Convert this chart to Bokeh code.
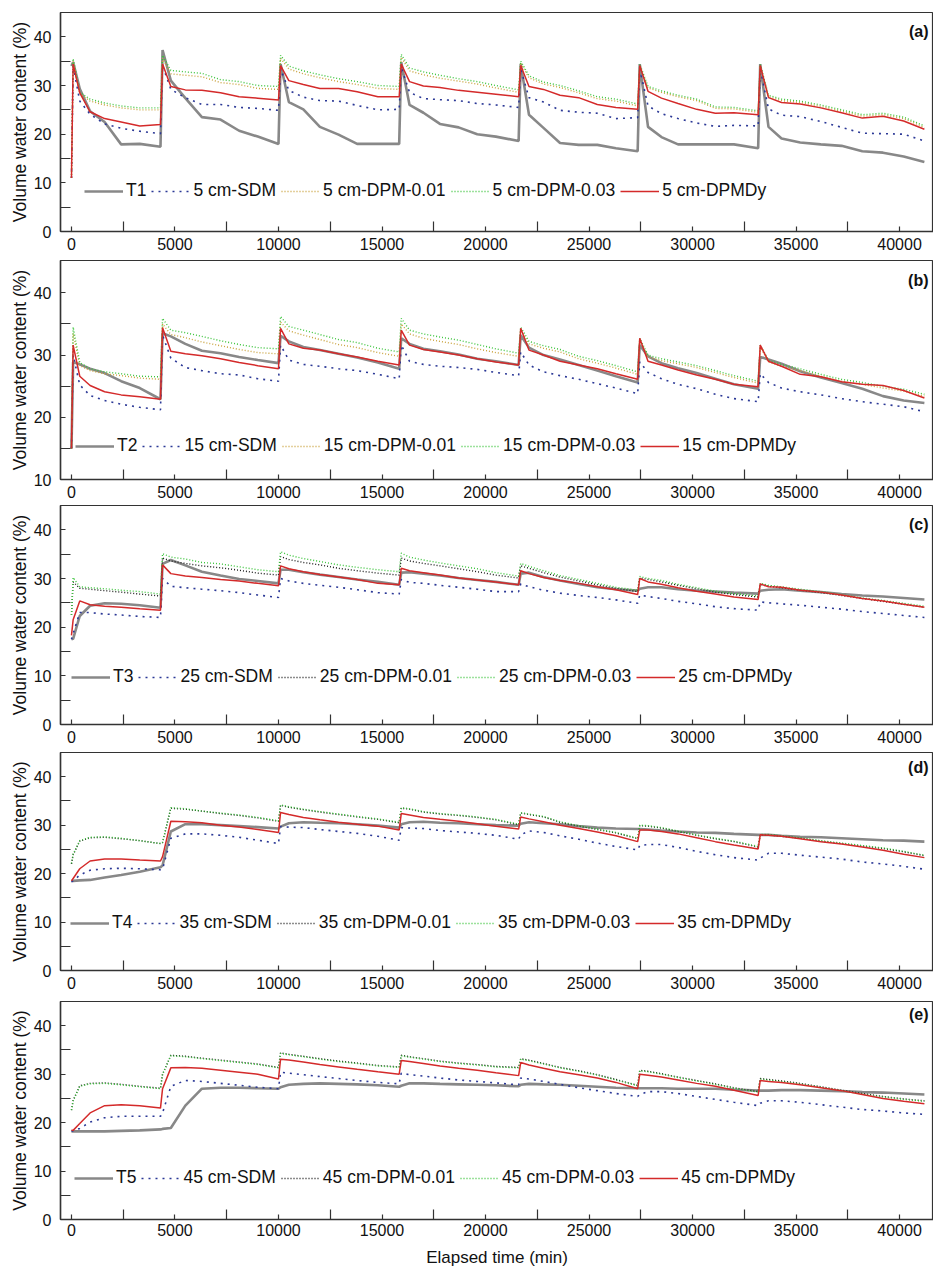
from bokeh.plotting import figure
from bokeh.layouts import column
from bokeh.models import Range1d, FixedTicker, Legend, LegendItem, Label
from bokeh.embed import file_html
from bokeh.resources import INLINE

TIME_MIN = [0, 80, 400, 900, 1600, 2400, 3300, 4300,
            4400, 4800, 5500, 6300, 7200, 8100, 9000, 10000,
            10100, 10500, 11200, 12000, 12900, 13800, 14800, 15830,
            15930, 16330, 17000, 17800, 18700, 19600, 20500, 21600,
            21700, 22100, 22800, 23600, 24500, 25400, 26300, 27350,
            27450, 27850, 28500, 29300, 30200, 31100, 32000, 33170,
            33270, 33670, 34300, 35200, 36200, 37200, 38200, 39200, 40200, 41200]

# ---- panel (a), 5 cm ----
A_T = [34.0, 34.8, 29.3, 24.7, 22.5, 17.9, 18.0, 17.4,
       37.3, 31.0, 27.4, 23.5, 23.0, 20.7, 19.5, 18.0,
       34.4, 26.6, 25.1, 21.5, 19.9, 18.0, 18.0, 18.0,
       34.8, 26.0, 24.4, 22.1, 21.4, 20.0, 19.5, 18.6,
       34.4, 24.0, 21.3, 18.2, 17.8, 17.8, 17.1, 16.5,
       34.4, 21.5, 19.4, 17.9, 17.9, 17.9, 17.9, 17.1,
       34.4, 21.5, 19.1, 18.3, 17.9, 17.6, 16.5, 16.2, 15.4, 14.3]
A_SDM = [11.0, 34.0, 26.8, 24.1, 22.1, 21.2, 20.6, 20.1,
         34.1, 29.2, 27.5, 26.1, 26.1, 25.5, 25.3, 24.9,
         33.4, 29.0, 27.6, 26.9, 26.8, 25.9, 25.0, 25.1,
         33.7, 28.6, 27.3, 27.1, 26.9, 26.3, 26.0, 25.5,
         33.4, 27.5, 26.6, 24.9, 24.5, 24.3, 23.2, 23.4,
         33.4, 25.8, 24.2, 23.2, 22.3, 21.6, 21.8, 21.7,
         33.4, 25.2, 23.9, 23.6, 22.6, 21.4, 20.2, 20.1, 20.0, 18.6]
A_DPM001 = [11.0, 35.0, 28.3, 26.8, 26.0, 25.4, 25.0, 25.0,
            35.6, 32.4, 32.1, 31.8, 30.6, 30.2, 29.4, 29.2,
            35.6, 33.4, 32.4, 31.6, 30.8, 30.2, 29.4, 29.2,
            35.8, 33.0, 32.2, 31.5, 30.9, 30.3, 29.5, 28.6,
            34.6, 31.6, 30.3, 29.6, 28.5, 27.3, 26.8, 25.8,
            34.1, 29.5, 28.6, 27.7, 26.9, 25.3, 25.2, 24.5,
            34.1, 27.7, 26.9, 26.5, 25.7, 24.7, 23.7, 24.0, 23.2, 21.4]
A_DPM003 = [11.0, 35.5, 28.6, 27.2, 26.4, 25.8, 25.4, 25.4,
            36.2, 33.1, 32.8, 32.5, 31.2, 30.8, 30.0, 29.8,
            36.2, 34.0, 33.0, 32.2, 31.4, 30.8, 30.0, 29.8,
            36.4, 33.6, 32.8, 32.1, 31.4, 30.8, 30.0, 29.1,
            35.0, 32.0, 30.7, 30.0, 28.9, 27.7, 27.2, 26.2,
            34.4, 29.8, 28.9, 28.0, 27.2, 25.6, 25.5, 24.8,
            34.4, 28.0, 27.2, 26.8, 26.0, 25.0, 24.0, 24.3, 23.5, 21.7]
A_DPMDY = [11.0, 34.4, 28.5, 24.6, 23.2, 22.5, 21.7, 22.0,
           34.4, 29.8, 29.1, 29.0, 28.5, 27.7, 27.4, 27.0,
           34.1, 31.0, 30.2, 29.4, 29.4, 28.7, 27.7, 27.7,
           34.4, 30.8, 29.9, 29.6, 29.0, 28.6, 28.2, 27.7,
           34.1, 29.8, 29.2, 28.0, 27.5, 26.1, 25.5, 25.1,
           34.1, 28.8, 27.4, 26.3, 25.1, 24.3, 24.4, 24.0,
           34.1, 27.5, 26.5, 26.2, 25.4, 24.4, 23.3, 23.7, 22.7, 21.0]

# ---- panel (b), 15 cm ----
B_T = [15.0, 28.9, 28.5, 27.8, 27.1, 25.8, 24.7, 22.9,
       33.5, 33.0, 31.8, 30.7, 30.3, 29.7, 29.2, 28.7,
       33.1, 32.2, 31.3, 30.8, 30.2, 29.6, 28.8, 27.8,
       32.7, 31.8, 31.0, 30.6, 30.1, 29.4, 29.0, 28.4,
       33.2, 31.2, 30.0, 29.3, 28.4, 27.5, 26.6, 25.6,
       31.6, 29.8, 28.7, 27.9, 27.1, 26.2, 25.3, 24.6,
       29.7, 29.3, 28.6, 27.4, 26.4, 25.5, 24.6, 23.4, 22.7, 22.3]
B_SDM = [15.0, 30.0, 25.2, 23.5, 22.7, 22.1, 21.6, 21.2,
         33.2, 29.5, 28.0, 27.5, 27.0, 26.8, 26.2, 25.8,
         31.6, 29.2, 28.5, 28.2, 27.8, 27.5, 26.9, 26.2,
         31.6, 29.0, 28.5, 28.2, 28.0, 27.7, 27.2, 26.7,
         30.5, 28.4, 27.3, 26.7, 26.1, 25.4, 24.7, 23.8,
         28.9, 27.2, 26.2, 25.3, 24.6, 23.7, 23.0, 22.5,
         27.0, 25.6, 24.7, 24.1, 23.6, 23.0, 22.5, 22.1, 21.7, 20.9]
B_DPM001 = [15.0, 33.5, 28.3, 27.5, 27.0, 26.7, 26.3, 26.1,
            35.0, 33.3, 32.8, 32.1, 31.5, 30.9, 30.4, 30.2,
            35.3, 33.9, 33.2, 32.5, 31.7, 31.2, 30.4, 29.8,
            35.0, 33.4, 32.7, 32.2, 31.7, 31.0, 30.4, 29.8,
            34.0, 31.8, 31.1, 30.5, 29.4, 28.7, 27.9, 26.9,
            32.4, 29.7, 29.1, 28.6, 28.0, 27.2, 26.4, 25.5,
            31.3, 28.9, 28.2, 27.5, 26.6, 25.8, 25.3, 24.7, 24.2, 23.4]
B_DPM003 = [15.0, 34.5, 28.8, 27.8, 27.3, 27.0, 26.6, 26.5,
            35.9, 34.0, 33.6, 33.0, 32.3, 31.7, 31.2, 31.0,
            36.2, 34.6, 34.0, 33.3, 32.5, 32.0, 31.1, 30.5,
            35.9, 34.0, 33.4, 32.9, 32.4, 31.7, 31.0, 30.3,
            34.5, 32.2, 31.5, 30.9, 29.8, 29.1, 28.3, 27.3,
            32.7, 30.0, 29.4, 28.9, 28.3, 27.5, 26.7, 25.8,
            31.6, 29.2, 28.5, 27.8, 26.9, 26.1, 25.6, 25.0, 24.5, 23.7]
B_DPMDY = [15.0, 31.6, 26.6, 25.1, 24.1, 23.6, 23.3, 22.9,
           34.4, 30.6, 30.2, 29.9, 29.4, 28.8, 28.3, 27.8,
           34.3, 31.8, 31.1, 30.8, 30.2, 29.7, 29.0, 28.4,
           34.0, 31.6, 30.9, 30.5, 30.0, 29.4, 28.9, 28.4,
           34.3, 30.8, 30.0, 29.0, 28.4, 27.8, 27.0, 26.1,
           32.7, 29.0, 28.4, 27.6, 26.8, 26.1, 25.3, 24.9,
           31.6, 29.0, 28.2, 26.9, 26.5, 25.7, 25.3, 25.1, 24.3, 23.1]

# ---- panel (c), 25 cm ----
C_T = [17.5, 17.6, 22.3, 24.4, 24.9, 24.8, 24.5, 24.0,
       33.0, 33.8, 32.7, 31.4, 30.6, 29.9, 29.5, 29.0,
       31.8, 31.8, 31.3, 30.8, 30.3, 29.8, 29.3, 28.7,
       31.2, 31.3, 31.0, 30.6, 30.1, 29.7, 29.3, 28.7,
       31.0, 31.2, 30.3, 29.6, 28.9, 28.2, 27.8, 27.5,
       27.9, 28.2, 28.2, 27.8, 27.5, 27.3, 27.1, 26.9,
       27.5, 27.7, 27.8, 27.5, 27.2, 26.8, 26.5, 26.3, 26.0, 25.7]
C_SDM = [17.5, 18.7, 23.0, 23.0, 22.7, 22.5, 22.2, 22.0,
         30.0, 28.4, 28.1, 27.8, 27.5, 27.1, 26.6, 26.1,
         30.0, 29.5, 29.0, 28.6, 28.2, 27.7, 27.1, 26.8,
         29.8, 29.2, 29.0, 28.6, 28.2, 27.8, 27.3, 27.3,
         28.9, 28.3, 27.6, 27.0, 26.5, 26.1, 25.6, 24.9,
         26.6, 26.3, 25.9, 25.3, 24.8, 24.2, 23.8, 23.5,
         25.2, 25.0, 24.8, 24.5, 24.1, 23.7, 23.2, 22.8, 22.4, 22.0]
C_DPM001 = [22.5, 29.3, 28.0, 27.8, 27.5, 27.2, 26.8, 26.4,
            34.2, 33.6, 33.1, 32.6, 32.2, 31.7, 31.1, 30.7,
            34.5, 33.9, 33.3, 32.8, 32.1, 31.6, 31.1, 30.7,
            34.2, 33.6, 33.1, 32.6, 32.0, 31.4, 30.7, 30.1,
            32.6, 32.1, 31.2, 30.3, 29.5, 28.7, 28.0, 27.3,
            30.1, 29.8, 29.3, 28.6, 27.9, 27.2, 26.7, 26.2,
            28.8, 28.4, 28.1, 27.6, 27.1, 26.5, 25.9, 25.3, 24.7, 24.1]
C_DPM003 = [22.5, 30.2, 28.3, 28.1, 27.9, 27.6, 27.3, 26.8,
            35.1, 34.4, 34.0, 33.3, 33.0, 32.4, 31.8, 31.4,
            35.5, 34.8, 34.1, 33.5, 32.8, 32.3, 31.8, 31.4,
            35.2, 34.4, 33.8, 33.2, 32.6, 32.0, 31.2, 30.5,
            33.1, 32.5, 31.6, 30.6, 29.8, 29.0, 28.2, 27.6,
            30.4, 30.0, 29.6, 28.8, 28.1, 27.4, 26.9, 26.4,
            29.0, 28.6, 28.3, 27.8, 27.3, 26.7, 26.0, 25.5, 24.9, 24.3]
C_DPMDY = [18.3, 21.5, 25.4, 24.6, 24.3, 24.1, 23.8, 23.5,
           32.8, 31.0, 30.5, 30.2, 29.8, 29.5, 29.0, 28.5,
           32.6, 32.0, 31.4, 30.8, 30.3, 29.8, 29.0, 28.7,
           32.1, 31.6, 31.2, 30.7, 30.1, 29.7, 29.3, 28.7,
           31.6, 31.0, 30.2, 29.6, 29.0, 28.3, 27.7, 26.7,
           30.0, 29.3, 28.8, 28.1, 27.4, 26.8, 26.2, 25.7,
           28.9, 28.3, 28.2, 27.6, 27.2, 26.6, 25.9, 25.4, 24.7, 24.1]

# ---- panel (d), 35 cm ----
D_T = [18.5, 18.5, 18.6, 18.7, 19.2, 19.7, 20.4, 21.3,
       21.7, 28.7, 30.2, 30.2, 30.0, 29.8, 29.6, 29.3,
       29.7, 30.4, 30.6, 30.5, 30.4, 30.2, 29.9, 29.5,
       30.2, 30.6, 30.7, 30.5, 30.4, 30.2, 30.0, 29.9,
       30.3, 30.6, 30.4, 30.2, 29.8, 29.5, 29.3, 29.2,
       29.2, 29.1, 28.9, 28.7, 28.5, 28.4, 28.2, 28.0,
       28.0, 28.0, 27.8, 27.6, 27.5, 27.3, 27.1, 26.9, 26.8, 26.6]
D_SDM = [18.3, 18.5, 19.7, 20.7, 21.0, 21.1, 21.0, 20.8,
         20.9, 27.3, 28.2, 28.2, 27.9, 27.5, 26.9, 26.2,
         29.7, 29.6, 29.5, 29.1, 28.7, 28.3, 27.7, 26.9,
         29.5, 29.4, 29.3, 28.9, 28.6, 28.3, 27.9, 27.1,
         28.0, 28.8, 28.5, 27.8, 27.1, 26.3, 25.6, 24.9,
         25.8, 26.0, 26.0, 25.4, 24.6, 23.9, 23.3, 22.8,
         23.2, 24.2, 24.2, 23.8, 23.4, 23.0, 22.4, 22.0, 21.5, 20.9]
D_DPM001 = [22.0, 23.9, 26.7, 27.4, 27.5, 27.2, 26.8, 26.2,
            26.4, 33.5, 33.3, 32.9, 32.4, 32.0, 31.5, 30.8,
            34.1, 33.7, 33.2, 32.7, 32.2, 31.7, 31.2, 30.5,
            33.5, 33.3, 32.7, 32.3, 32.0, 31.6, 31.1, 30.1,
            32.5, 32.2, 31.7, 30.6, 29.8, 29.1, 28.4, 27.2,
            29.9, 29.8, 29.4, 28.7, 27.9, 27.2, 26.6, 25.5,
            28.0, 28.0, 27.7, 27.3, 26.7, 26.2, 25.7, 25.2, 24.5, 23.7]
D_DPM003 = [22.1, 24.0, 26.8, 27.5, 27.6, 27.3, 26.8, 26.2,
            26.5, 33.6, 33.4, 32.9, 32.5, 32.1, 31.6, 30.9,
            34.2, 33.8, 33.3, 32.8, 32.3, 31.8, 31.3, 30.6,
            33.6, 33.4, 32.8, 32.4, 32.1, 31.7, 31.2, 30.2,
            32.6, 32.3, 31.8, 30.7, 29.9, 29.2, 28.5, 27.3,
            30.0, 29.9, 29.5, 28.8, 28.0, 27.3, 26.7, 25.6,
            28.1, 28.1, 27.8, 27.4, 26.8, 26.3, 25.8, 25.3, 24.6, 23.8]
D_DPMDY = [18.5, 19.0, 21.0, 22.6, 23.0, 23.0, 22.8, 22.6,
           23.5, 30.8, 30.7, 30.5, 30.0, 29.6, 29.1, 28.5,
           32.6, 32.2, 31.6, 31.1, 30.6, 30.2, 29.8, 29.0,
           32.4, 32.1, 31.6, 31.2, 30.8, 30.3, 29.8, 29.2,
           31.7, 31.3, 30.7, 30.0, 29.3, 28.6, 27.8, 26.6,
           29.0, 29.0, 28.7, 28.2, 27.4, 26.6, 25.9, 25.1,
           28.0, 27.9, 27.7, 27.2, 26.6, 26.1, 25.5, 24.8, 24.0, 23.3]

# ---- panel (e), 45 cm ----
E_T = [18.2, 18.2, 18.2, 18.2, 18.2, 18.3, 18.4, 18.6,
       18.7, 18.9, 23.5, 27.0, 27.2, 27.2, 27.1, 27.0,
       27.3, 27.8, 28.0, 28.1, 28.0, 27.9, 27.7, 27.4,
       27.6, 28.1, 28.1, 28.0, 27.9, 27.8, 27.7, 27.5,
       27.8, 28.0, 27.9, 27.8, 27.6, 27.4, 27.2, 27.1,
       27.1, 27.1, 27.1, 27.0, 27.0, 27.0, 26.8, 26.6,
       26.6, 26.6, 26.7, 26.7, 26.6, 26.5, 26.3, 26.2, 26.0, 25.8]
E_SDM = [18.2, 18.3, 18.8, 20.1, 21.0, 21.3, 21.3, 21.3,
         22.0, 27.5, 28.7, 28.5, 28.1, 27.7, 27.3, 27.0,
         30.4, 30.2, 29.9, 29.5, 29.1, 28.7, 28.3, 28.0,
         30.2, 29.9, 29.6, 29.2, 28.8, 28.5, 28.2, 27.8,
         29.2, 29.0, 28.5, 27.9, 27.2, 26.6, 26.0, 25.4,
         25.8, 26.4, 26.4, 26.0, 25.4, 24.8, 24.2, 23.5,
         24.0, 24.5, 24.5, 24.2, 23.7, 23.2, 22.7, 22.4, 22.0, 21.7]
E_DPM001 = [22.6, 24.6, 27.6, 28.1, 28.2, 27.9, 27.5, 27.1,
            30.0, 33.9, 33.7, 33.3, 32.9, 32.5, 32.1, 31.4,
            34.4, 34.1, 33.7, 33.2, 32.7, 32.3, 31.8, 31.5,
            33.9, 33.6, 33.2, 32.7, 32.3, 32.0, 31.6, 31.4,
            33.2, 32.9, 32.2, 31.4, 30.7, 29.9, 28.9, 27.7,
            30.8, 30.6, 30.1, 29.4, 28.7, 28.0, 27.2, 26.4,
            29.1, 28.9, 28.6, 28.1, 27.4, 26.7, 26.0, 25.4, 24.9, 24.5]
E_DPM003 = [22.6, 24.5, 27.5, 28.0, 28.1, 27.8, 27.4, 27.0,
            30.0, 33.8, 33.6, 33.2, 32.8, 32.4, 32.0, 31.3,
            34.3, 34.0, 33.6, 33.1, 32.6, 32.2, 31.7, 31.4,
            33.8, 33.5, 33.1, 32.6, 32.2, 31.9, 31.5, 31.3,
            33.1, 32.8, 32.1, 31.3, 30.6, 29.8, 28.8, 27.6,
            30.7, 30.5, 30.0, 29.3, 28.6, 27.9, 27.1, 26.3,
            29.0, 28.8, 28.5, 28.0, 27.3, 26.6, 25.9, 25.3, 24.8, 24.4]
E_DPMDY = [18.4, 18.4, 19.8, 22.0, 23.5, 23.7, 23.5, 23.0,
           27.0, 31.3, 31.4, 31.2, 30.8, 30.4, 30.0, 29.0,
           33.1, 32.9, 32.5, 32.0, 31.5, 31.0, 30.5, 30.0,
           32.8, 32.6, 32.2, 31.7, 31.2, 30.8, 30.3, 29.7,
           32.4, 31.9, 31.2, 30.5, 29.9, 29.2, 28.3, 27.0,
           30.0, 29.8, 29.4, 28.8, 28.1, 27.5, 26.7, 25.6,
           28.7, 28.5, 28.3, 27.8, 27.2, 26.6, 25.8, 25.0, 24.4, 23.9]

X_TICKS = [0, 5000, 10000, 15000, 20000, 25000, 30000, 35000, 40000]
X_MINOR = [2500, 7500, 12500, 17500, 22500, 27500, 32500, 37500]
TAGS = ["(a)", "(b)", "(c)", "(d)", "(e)"]
DEPTHS = ["5", "15", "25", "35", "45"]
OBS_NAMES = ["T1", "T2", "T3", "T4", "T5"]

FONT = "Liberation Sans"
AXIS_COLOR = "#333333"


def make_panel(i, series, ymin, ymax, yticks, yminor, dpm01_color,
               legend_loc, tag_y, top, fh, bottom, xlabel=None):
    p = figure(frame_width=873, frame_height=fh,
               min_border_left=60, min_border_right=0,
               min_border_top=top, min_border_bottom=bottom,
               x_range=Range1d(-530, 41640), y_range=Range1d(ymin, ymax),
               output_backend="svg", toolbar_location=None)
    p.xgrid.visible = False
    p.ygrid.visible = False
    p.outline_line_color = AXIS_COLOR
    p.outline_line_width = 1.2
    p.background_fill_color = "white"
    p.border_fill_color = "white"

    p.xaxis.ticker = FixedTicker(ticks=X_TICKS, minor_ticks=X_MINOR)
    p.yaxis.ticker = FixedTicker(ticks=yticks, minor_ticks=yminor)
    for ax in (p.xaxis[0], p.yaxis[0]):
        ax.axis_line_color = AXIS_COLOR
        ax.axis_line_width = 1.5
        ax.major_tick_in = 5
        ax.major_tick_out = 0
        ax.minor_tick_in = 10
        ax.minor_tick_out = 0
        ax.major_tick_line_color = AXIS_COLOR
        ax.minor_tick_line_color = AXIS_COLOR
        ax.major_tick_line_width = 1.2
        ax.minor_tick_line_width = 1.2
        ax.major_label_text_font = FONT
        ax.major_label_text_font_size = "16px"
        ax.major_label_text_color = "#111111"
    p.xaxis.major_label_standoff = 6
    p.yaxis.major_label_standoff = 9
    p.yaxis.axis_label = "Volume water content (%)"
    p.yaxis.axis_label_text_font = FONT
    p.yaxis.axis_label_text_font_size = "17.5px"
    p.yaxis.axis_label_text_font_style = "normal"
    p.yaxis.axis_label_text_color = "#111111"
    p.yaxis.axis_label_standoff = 1
    if xlabel:
        p.xaxis.axis_label = xlabel
        p.xaxis.axis_label_text_font = FONT
        p.xaxis.axis_label_text_font_size = "17px"
        p.xaxis.axis_label_text_font_style = "normal"
        p.xaxis.axis_label_text_color = "#111111"
        p.xaxis.axis_label_standoff = 9
        p.xaxis.major_label_standoff = 4

    d = DEPTHS[i]
    names = [OBS_NAMES[i], d + " cm-SDM", d + " cm-DPM-0.01",
             d + " cm-DPM-0.03", d + " cm-DPMDy"]
    styles = [("#888888", 2.6, "solid"),
              ("#2b3896", 1.6, "2 5"),
              (dpm01_color, 1.4, "1 2"),
              ("#3cc43c", 1.4, "1 2"),
              ("#d42a2a", 1.5, "solid")]
    items = []
    for name, vals, (col, w, dash) in zip(names, series, styles):
        r = p.line(TIME_MIN, vals, line_color=col, line_width=w, line_dash=dash)
        items.append(LegendItem(label=name, renderers=[r]))

    leg = Legend(items=items, orientation="horizontal", location=legend_loc,
                 background_fill_alpha=0, border_line_color=None,
                 glyph_width=39, glyph_height=20, label_height=20,
                 label_standoff=3, spacing=5, padding=0, margin=0,
                 label_text_font=FONT, label_text_font_size="17.5px",
                 label_text_color="#111111")
    p.add_layout(leg)

    p.add_layout(Label(x=41400, y=tag_y, text=TAGS[i], text_align="right",
                       text_baseline="middle", text_font=FONT,
                       text_font_style="bold", text_font_size="16px",
                       text_color="#111111"))
    return p


pa = make_panel(0, [A_T, A_SDM, A_DPM001, A_DPM003, A_DPMDY], 0, 45,
                [0, 10, 20, 30, 40], [5, 15, 25, 35], "#c9a23c",
                (24, 30), 41.1, 12, 219, 29)
pb = make_panel(1, [B_T, B_SDM, B_DPM001, B_DPM003, B_DPMDY], 10, 45.2,
                [10, 20, 30, 40], [15, 25, 35], "#c9a23c",
                (15, 23), 42.0, 0, 219, 26)
pc = make_panel(2, [C_T, C_SDM, C_DPM001, C_DPM003, C_DPMDY], 0, 45,
                [0, 10, 20, 30, 40], [5, 15, 25, 35], "#1a1a1a",
                (11, 37), 41.0, 0, 219, 28)
pd = make_panel(3, [D_T, D_SDM, D_DPM001, D_DPM003, D_DPMDY], 0, 45,
                [0, 10, 20, 30, 40], [5, 15, 25, 35], "#1a1a1a",
                (10, 37), 41.9, 0, 218, 31)
pe = make_panel(4, [E_T, E_SDM, E_DPM001, E_DPM003, E_DPMDY], 0, 45,
                [0, 10, 20, 30, 40], [5, 15, 25, 35], "#1a1a1a",
                (14, 31), 42.4, 0, 218, 52, xlabel="Elapsed time (min)")

layout = column(pa, pb, pc, pd, pe, spacing=0)
open("out.html", "w").write(file_html(layout, INLINE))
